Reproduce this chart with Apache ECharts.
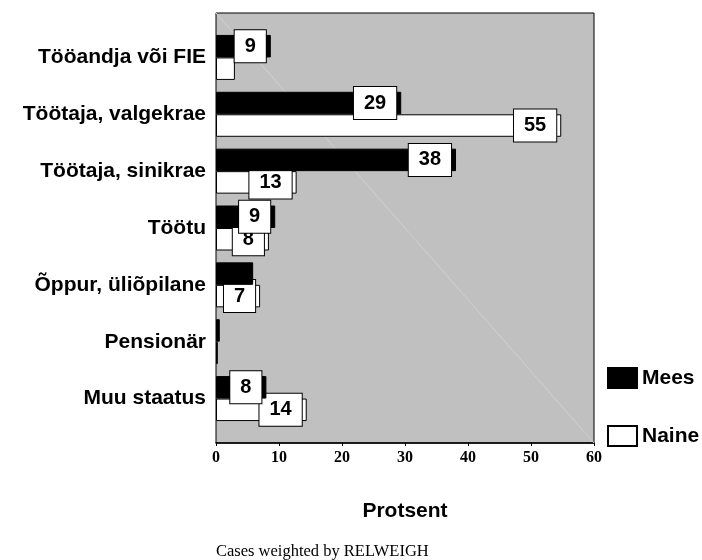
<!DOCTYPE html>
<html>
<head>
<meta charset="utf-8">
<script src="https://cdn.jsdelivr.net/npm/echarts@6/dist/echarts.min.js"></script>
<style>
  html, body { margin: 0; padding: 0; background: #fff; }
  #chart { width: 702px; height: 560px; }
</style>
</head>
<body>
<div id="chart"></div>
<script>
// categories top to bottom
const categories = ['Tööandja või FIE', 'Töötaja, valgekrae', 'Töötaja, sinikrae', 'Töötu', 'Õppur, üliõpilane', 'Pensionär', 'Muu staatus'];
const mees = [8.7, 29.4, 38.1, 9.4, 5.9, 0.6, 8.0];
const naine = [3.0, 54.8, 12.8, 8.4, 7.0, 0.3, 14.4];
const xTicks = [0, 10, 20, 30, 40, 50, 60];

const sans = 'Arial, "Liberation Sans", sans-serif';
const serif = '"Liberation Serif", "Times New Roman", serif';

var chart = echarts.init(document.getElementById('chart'));

// labels only on the bigger bars, like the original
function withLabels(values) {
  return values.map(v => ({ value: v, label: { show: v >= 6.5 } }));
}

function barLabel() {
  return {
    show: true,
    position: 'insideRight',
    distance: 5,
    formatter: p => String(Math.round(p.value)),
    color: '#000',
    fontFamily: sans,
    fontWeight: 'bold',
    fontSize: 20,
    lineHeight: 20,
    backgroundColor: '#fff',
    borderColor: '#000',
    borderWidth: 1,
    padding: [6, 10]
  };
}

var option = {
  animation: false,
  title: {
    text: 'Cases weighted by RELWEIGH',
    left: 216,
    top: 543,
    padding: 0,
    textStyle: { fontFamily: serif, fontWeight: 'normal', fontSize: 16.5, color: '#000' }
  },
  legend: {
    data: ['Mees', 'Naine'],
    orient: 'vertical',
    left: 607,
    top: 367,
    padding: 0,
    itemWidth: 29,
    itemHeight: 20,
    itemGap: 36,
    icon: 'rect',
    textStyle: { fontFamily: sans, fontWeight: 'bold', fontSize: 21, color: '#000', lineHeight: 20 }
  },
  grid: [
    // grey frame with the value axis
    { left: 216, top: 13, width: 378, height: 430, show: true, backgroundColor: '#c0c0c0', borderColor: '#000', borderWidth: 1 },
    // bars
    { left: 216, top: 29, width: 378, height: 398 }
  ],
  graphic: [
    { type: 'line', z: 1, shape: { x1: 216, y1: 13, x2: 594, y2: 443 }, style: { stroke: '#d0d0d0', lineWidth: 1 } }
  ],
  xAxis: [
    {
      gridIndex: 0, type: 'value', min: 0, max: 60, interval: 10,
      name: 'Protsent', nameLocation: 'middle', nameGap: 58,
      nameTextStyle: { fontFamily: sans, fontWeight: 'bold', fontSize: 21, color: '#000' },
      axisLine: { show: true, lineStyle: { color: '#000', width: 1.5 } },
      axisTick: { show: true, length: 3, lineStyle: { color: '#000' } },
      splitLine: { show: false },
      axisLabel: {
        margin: 7, color: '#000', fontFamily: serif, fontWeight: 'bold', fontSize: 16,
        formatter: v => xTicks.includes(v) ? String(v) : ''
      }
    },
    { gridIndex: 1, type: 'value', min: 0, max: 60, show: false }
  ],
  yAxis: [
    { gridIndex: 0, type: 'value', show: false },
    {
      gridIndex: 1, type: 'category', data: categories, inverse: true,
      axisLine: { show: false },
      axisTick: { show: false },
      axisLabel: { margin: 10, color: '#000', fontFamily: sans, fontWeight: 'bold', fontSize: 21 }
    }
  ],
  series: [
    {
      name: 'Mees', type: 'bar', xAxisIndex: 1, yAxisIndex: 1, z: 3,
      data: withLabels(mees), barWidth: 22.5, barGap: '0%',
      itemStyle: { color: '#000', borderColor: '#000', borderWidth: 1 },
      label: barLabel()
    },
    {
      name: 'Naine', type: 'bar', xAxisIndex: 1, yAxisIndex: 1, z: 2,
      data: withLabels(naine), barWidth: 22.5, barGap: '0%',
      itemStyle: { color: '#fff', borderColor: '#000', borderWidth: 1 },
      label: barLabel()
    }
  ]
};

chart.setOption(option);
</script>
</body>
</html>
